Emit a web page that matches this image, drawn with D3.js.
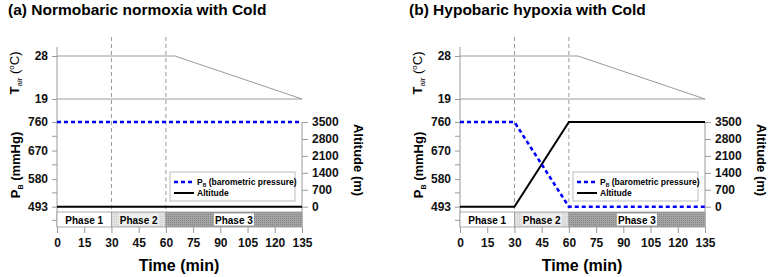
<!DOCTYPE html>
<html>
<head>
<meta charset="utf-8">
<script src="https://cdn.jsdelivr.net/npm/d3@7"></script>
<style>
body { margin: 0; background: #fff; }
svg { font-family: "Liberation Sans", Arial, sans-serif; }
</style>
</head>
<body>
<svg width="768" height="277"></svg>
<script>
// data
var titles = ["(a) Normobaric normoxia with Cold", "(b) Hypobaric hypoxia with Cold"]
var xTicks = [0, 15, 30, 45, 60, 75, 90, 105, 120, 135]
var tairTime = [0, 65, 135]
var tairVals = [28, 28, 19]
var tairTicks = [28, 19]
var pbTicks = [760, 670, 580, 493]
var altTicks = [0, 700, 1400, 2100, 2800, 3500]
var phaseNames = ["Phase 1", "Phase 2", "Phase 3"]
var phaseStart = [0, 30, 60]
var phaseEnd = [30, 60, 135]
var pbTimeA = [0, 135], pbValsA = [760, 760]
var altTimeA = [0, 135], altValsA = [0, 0]
var pbTimeB = [0, 30, 60, 135], pbValsB = [760, 760, 493, 493]
var altTimeB = [0, 30, 60, 135], altValsB = [0, 0, 3500, 3500]

var svg = d3.select("svg")
var defs = svg.append("defs")
var pat = defs.append("pattern").attr("id", "dots").attr("width", 2).attr("height", 2)
  .attr("patternUnits", "userSpaceOnUse")
pat.append("rect").attr("width", 2).attr("height", 2).attr("fill", "#a4a4a4")
pat.append("rect").attr("width", 1).attr("height", 1).attr("fill", "#868686")
var pat2 = defs.append("pattern").attr("id", "dots2").attr("width", 2).attr("height", 2)
  .attr("patternUnits", "userSpaceOnUse")
pat2.append("rect").attr("width", 2).attr("height", 2).attr("fill", "#e2e2e2")
pat2.append("rect").attr("width", 1).attr("height", 1).attr("fill", "#cfcfcf")
var fills = ["#ffffff", "url(#dots2)", "url(#dots)"]

function zip(a, b) { return a.map((v, i) => [v, b[i]]) }

function panel(ox, titleX, title, pbT, pbV, altT, altV) {
  var g = svg.append("g").attr("transform", "translate(" + ox + ",0)")
  var x = d3.scaleLinear().domain([0, 135]).range([57, 302])
  var yT = d3.scaleLinear().domain([19, 28]).range([99, 56])
  var yP = d3.scaleLinear().domain([493, 760]).range([206.7, 122])
  var yA = d3.scaleLinear().domain([0, 3500]).range([206.7, 122])
  var gray = "#9a9a9a"

  g.append("text").attr("x", titleX).attr("y", 15)
    .attr("font-size", 15.5).attr("font-weight", "bold").text(title)

  // dashed phase lines
  g.selectAll(".vl").data([30, 60]).enter().append("line")
    .attr("x1", d => x(d)).attr("x2", d => x(d)).attr("y1", 37).attr("y2", 212)
    .attr("stroke", "#999").attr("stroke-dasharray", "4,3").attr("stroke-width", 1)

  // top panel: air temperature
  var axT = g.append("g").attr("transform", "translate(57,0)")
    .call(d3.axisLeft(yT).tickValues(tairTicks).tickSize(5).tickPadding(4))
  axT.select(".domain").attr("d", "M0,47V99")
  g.append("line").attr("x1", x(0)).attr("x2", x(135)).attr("y1", yT(19)).attr("y2", yT(19))
    .attr("stroke", gray)
  g.append("path").datum(zip(tairTime, tairVals))
    .attr("d", d3.line().x(d => x(d[0])).y(d => yT(d[1])))
    .attr("fill", "none").attr("stroke", gray).attr("stroke-width", 1)

  // bottom panel axes
  var minor = [715, 625, 536.5, 450]
  var axP = g.append("g").attr("transform", "translate(57,0)")
    .call(d3.axisLeft(yP).tickValues(pbTicks).tickSize(5).tickPadding(4))
  axP.select(".domain").attr("d", "M0,99V227")
  axP.selectAll(".minor").data(minor).enter().append("line")
    .attr("x1", 0).attr("x2", -5).attr("y1", d => yP(d)).attr("y2", d => yP(d))
    .attr("stroke", gray)
  var axA = g.append("g").attr("transform", "translate(302,0)")
    .call(d3.axisRight(yA).tickValues(altTicks).tickFormat(d3.format("d")).tickSize(6).tickPadding(4))
  axA.select(".domain").attr("d", "M0,122V227")

  ;[axT, axP, axA].forEach(a => {
    a.selectAll(".domain").attr("stroke", gray)
    a.selectAll(".tick line").attr("stroke", gray)
    a.selectAll(".tick text").attr("font-size", 12).attr("font-weight", "bold")
      .attr("font-family", "Liberation Sans, Arial, sans-serif").attr("fill", "#111")
  })

  // phase bar
  var pb = g.append("g")
  pb.selectAll("rect").data(phaseNames).enter().append("rect")
    .attr("x", (d, i) => x(phaseStart[i])).attr("width", (d, i) => x(phaseEnd[i]) - x(phaseStart[i]))
    .attr("y", 212).attr("height", 15)
    .attr("fill", (d, i) => fills[i]).attr("stroke", gray).attr("stroke-width", 0.8)
  phaseNames.forEach((d, i) => {
    var cx = (x(phaseStart[i]) + x(phaseEnd[i])) / 2
    if (i > 0) {
      var w = 40
      pb.append("rect").attr("x", cx - w / 2).attr("y", 213.5).attr("width", w).attr("height", 12)
        .attr("fill", i == 1 ? "#f0f0f0" : "#fff")
    }
    pb.append("text").attr("x", cx).attr("y", 223.5).attr("text-anchor", "middle")
      .attr("font-size", 10).attr("font-weight", "bold").text(d)
  })

  // x axis
  var axX = g.append("g").attr("transform", "translate(0,227)")
    .call(d3.axisBottom(x).tickValues(xTicks).tickSize(6).tickPadding(5))
  axX.select(".domain").remove()
  axX.selectAll(".tick line").attr("stroke", gray)
  axX.selectAll(".tick text").attr("font-size", 12).attr("font-weight", "bold")
    .attr("font-family", "Liberation Sans, Arial, sans-serif").attr("fill", "#111")
  g.append("text").attr("x", 179).attr("y", 271).attr("text-anchor", "middle")
    .attr("font-size", 16).attr("font-weight", "bold").text("Time (min)")

  // series
  g.append("path").datum(zip(altT, altV))
    .attr("d", d3.line().x(d => x(d[0])).y(d => yA(d[1])))
    .attr("fill", "none").attr("stroke", "#000").attr("stroke-width", 2)
  g.append("path").datum(zip(pbT, pbV))
    .attr("d", d3.line().x(d => x(d[0])).y(d => yP(d[1])))
    .attr("fill", "none").attr("stroke", "#0000ff").attr("stroke-width", 2.6)
    .attr("stroke-dasharray", "4,3")

  // y labels
  var tl = g.append("text").attr("transform", "translate(19,73) rotate(-90)")
    .attr("text-anchor", "middle").attr("font-size", 13)
  tl.append("tspan").attr("font-weight", "bold").text("T")
  tl.append("tspan").attr("font-size", 8).attr("dy", 3).text("air")
  tl.append("tspan").attr("dy", -3).text(" (")
  tl.append("tspan").attr("font-size", 8).attr("dy", -5).text("o")
  tl.append("tspan").attr("dy", 5).text("C)")
  var pl = g.append("text").attr("transform", "translate(20,165) rotate(-90)")
    .attr("text-anchor", "middle").attr("font-size", 13).attr("font-weight", "bold")
  pl.append("tspan").text("P")
  pl.append("tspan").attr("font-size", 7).attr("dy", 3).text("B")
  pl.append("tspan").attr("dy", -3).text(" (mmHg)")
  g.append("text").attr("transform", "translate(354,160) rotate(90)")
    .attr("text-anchor", "middle").attr("font-size", 13).attr("font-weight", "bold")
    .text("Altitude (m)")

  // legend
  var lg = g.append("g").attr("transform", "translate(170,172)")
  lg.append("rect").attr("width", 125).attr("height", 29).attr("fill", "#fff")
    .attr("stroke", "#aaa").attr("stroke-width", 0.8)
  lg.append("line").attr("x1", 4).attr("x2", 24).attr("y1", 10).attr("y2", 10)
    .attr("stroke", "#0000ff").attr("stroke-width", 2.4).attr("stroke-dasharray", "4,3")
  lg.append("line").attr("x1", 4).attr("x2", 24).attr("y1", 21).attr("y2", 21)
    .attr("stroke", "#000").attr("stroke-width", 2)
  var l1 = lg.append("text").attr("x", 27).attr("y", 13).attr("font-size", 8.5).attr("font-weight", "bold")
  l1.append("tspan").text("P")
  l1.append("tspan").attr("font-size", 5).attr("dy", 2).text("B")
  l1.append("tspan").attr("dy", -2).text(" (barometric pressure)")
  lg.append("text").attr("x", 27).attr("y", 24).attr("font-size", 8.5).attr("font-weight", "bold")
    .text("Altitude")
}

panel(0, 8, titles[0], pbTimeA, pbValsA, altTimeA, altValsA)
panel(403, 6, titles[1], pbTimeB, pbValsB, altTimeB, altValsB)
</script>
</body>
</html>
